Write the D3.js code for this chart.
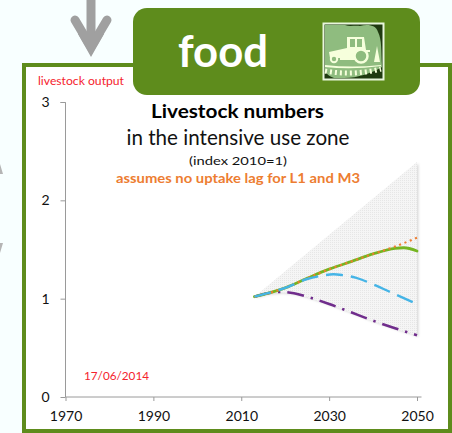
<!DOCTYPE html>
<html><head><meta charset="utf-8">
<script src="https://cdn.jsdelivr.net/npm/d3@7"></script>
<style>html,body{margin:0;padding:0;background:#f8ffff}svg{display:block}text{font-family:Lato,"Open Sans",sans-serif}</style>
</head><body><svg id="c" width="452" height="433"></svg>
<script>
const xTicks=[1970,1990,2010,2030,2050];
const yTicks=[0,1,2,3];
const greenYears=[2013,2020,2025,2030,2035,2040,2045,2047,2050];
const greenVals=[1.02,1.11,1.207,1.30,1.377,1.455,1.512,1.518,1.485];
const orangeYears=[2013,2020,2025,2030,2035,2040,2045,2050];
const orangeVals=[1.02,1.11,1.207,1.30,1.377,1.455,1.53,1.62];
const blueYears=[2013,2020,2025,2028,2031,2033,2036,2040,2045,2050];
const blueVals=[1.02,1.11,1.20,1.231,1.248,1.24,1.214,1.146,1.045,0.946];
const purpleYears=[2013,2016,2019,2022,2025,2030,2035,2040,2045,2050];
const purpleVals=[1.02,1.055,1.068,1.055,1.02,0.946,0.861,0.776,0.699,0.628];
const wedgeTopYears=[2013,2050];
const wedgeTopVals=[1.02,2.39];

const svg=d3.select('#c');
const defs=svg.append('defs');
const pat=defs.append('pattern').attr('id','dots').attr('width',2).attr('height',2).attr('patternUnits','userSpaceOnUse');
pat.append('rect').attr('width',2).attr('height',2).attr('fill','#f5f5f5');
pat.append('rect').attr('width',1).attr('height',1).attr('fill','#e6e6e6');
const f=defs.append('filter').attr('id','sh').attr('x','-10%').attr('y','-10%').attr('width','125%').attr('height','125%');
f.append('feDropShadow').attr('dx',1.5).attr('dy',1.5).attr('stdDeviation',1).attr('flood-color','#000').attr('flood-opacity',0.15);

const x=d3.scaleLinear().domain([1970,2050]).range([65.5,417]);
const y=d3.scaleLinear().domain([0,3]).range([397,102]);
const zip=(a,b)=>a.map((d,i)=>[d,b[i]]);
const line=d3.line().x(d=>x(d[0])).y(d=>y(d[1])).curve(d3.curveMonotoneX);
const G='#5e8c1c';

svg.append('rect').attr('x',24).attr('y',65).attr('width',426).attr('height',366).attr('fill','#fff').attr('stroke',G).attr('stroke-width',4);

svg.append('path').attr('d','M91 0V46').attr('stroke','#a0a0a0').attr('stroke-width',9).attr('fill','none');
svg.append('path').attr('d','M75 20L91 47L107 20').attr('fill','none').attr('stroke','#a0a0a0').attr('stroke-width',9).attr('stroke-linecap','round');
svg.append('path').attr('d','M91 57L78 34H104Z').attr('fill','#a0a0a0');
svg.append('path').attr('d','M0 164L3 174L0 174Z M0 243L3 243L0 253Z').attr('fill','#b5b5b5');

svg.append('rect').attr('x',133).attr('y',8).attr('width',287).attr('height',87).attr('rx',14).attr('fill',G);
svg.append('text').attr('x',223).attr('y',67).attr('text-anchor','middle').attr('fill','#fff').attr('font-size',44).attr('font-weight',700).attr('textLength',90).attr('lengthAdjust','spacingAndGlyphs').text('food');

// tractor icon
const ic=svg.append('g');
const cream='#f6ffdc',soft='#8fbc7f';
ic.append('rect').attr('x',323.5).attr('y',23.5).attr('width',60).attr('height',56).attr('fill','#1f3a10').attr('stroke','#e8f6dc').attr('stroke-width',2);
ic.append('path').attr('d','M325 25H345C350 27 355 25 360 26C368 24 376 25 378 32C382 40 381 50 382 67C372 73 358 78 344 78H334C329 76 326 74 325 70Z').attr('fill',soft);
ic.append('path').attr('d','M329 52L347 48V37H364L366 50H370V52H362V60H340V58H330Z').attr('fill',cream);
ic.append('rect').attr('x',350).attr('y',39).attr('width',5).attr('height',8).attr('fill',soft);
ic.append('rect').attr('x',357).attr('y',39).attr('width',5).attr('height',8).attr('fill',soft);
ic.append('circle').attr('cx',361).attr('cy',56).attr('r',6.5).attr('fill',soft).attr('stroke',cream).attr('stroke-width',2.5);
ic.append('circle').attr('cx',334).attr('cy',59).attr('r',3.2).attr('fill',soft).attr('stroke',cream).attr('stroke-width',2);
ic.append('path').attr('d','M377 46L380 62H374Z').attr('fill',cream);
ic.append('path').attr('d','M325 65Q352 68 381 65V66Q352 70 325 67Z').attr('fill',cream);
ic.append('path').attr('d','M325 71Q352 76 381 69').attr('fill','none').attr('stroke',cream).attr('stroke-width',5).attr('stroke-dasharray','2 3');

// plot
const yAxis=d3.axisLeft(y).tickValues(yTicks).tickFormat(d3.format('d')).tickSize(5).tickPadding(11);
const xAxis=d3.axisBottom(x).tickValues(xTicks).tickFormat(d3.format('d')).tickSize(4).tickPadding(10);
const ag=svg.append('g').attr('transform','translate(65.5,0)').call(yAxis);
const bg=svg.append('g').attr('transform','translate(0,397)').call(xAxis);
[ag,bg].forEach(g=>{g.selectAll('path,line').attr('stroke','#9a9a9a').attr('stroke-width',1);
 g.selectAll('text').attr('font-size',14).attr('fill','#111').attr('font-family','Lato');});
bg.select('.domain').attr('d','M65.5 0H421.5');
ag.select('.domain').attr('d','M0 102.5H-5M0 102.5V397');

const bottom=zip(purpleYears,purpleVals);
const topLine=zip(wedgeTopYears,wedgeTopVals);
const wedge=d3.line().x(d=>x(d[0])).y(d=>y(d[1]));
svg.append('path').attr('d',wedge(topLine.concat(bottom.slice().reverse()))).attr('fill','url(#dots)').attr('filter','url(#sh)');

const L=[[purpleYears,purpleVals,'#702d8c',2.6,'17 7 2.4 7','butt'],
 [greenYears,greenVals,'#74b520',2.8,null,'round'],
 [orangeYears,orangeVals,'#ed7d31',2.1,'2.1 3.6','butt'],
 [blueYears,blueVals,'#45b4e6',2.4,'17 8','butt']];
L.forEach(s=>svg.append('path').attr('d',line(zip(s[0],s[1]))).attr('fill','none').attr('stroke',s[2]).attr('stroke-width',s[3]).attr('stroke-dasharray',s[4]).attr('stroke-linecap',s[5]));

function T(t,xp,yp,size,w,fill,len,anchor){const e=svg.append('text').attr('x',xp).attr('y',yp).attr('font-size',size).attr('font-weight',w).attr('fill',fill).attr('text-anchor',anchor||'middle').text(t);
 if(len)e.attr('textLength',len).attr('lengthAdjust','spacingAndGlyphs');return e;}
T('livestock output',38,85,11.5,400,'#f5222d',86,'start');
T('17/06/2014',84,380,11.5,400,'#f5222d',65,'start');
T('Livestock numbers',237.5,118,19,700,'#000',173);
T('in the intensive use zone',238,145,21,400,'#111',223);
T('(index 2010=1)',238,165,12,400,'#111',98);
T('assumes no uptake lag for L1 and M3',238,183,13,700,'#ed7d31',244);
</script></body></html>
